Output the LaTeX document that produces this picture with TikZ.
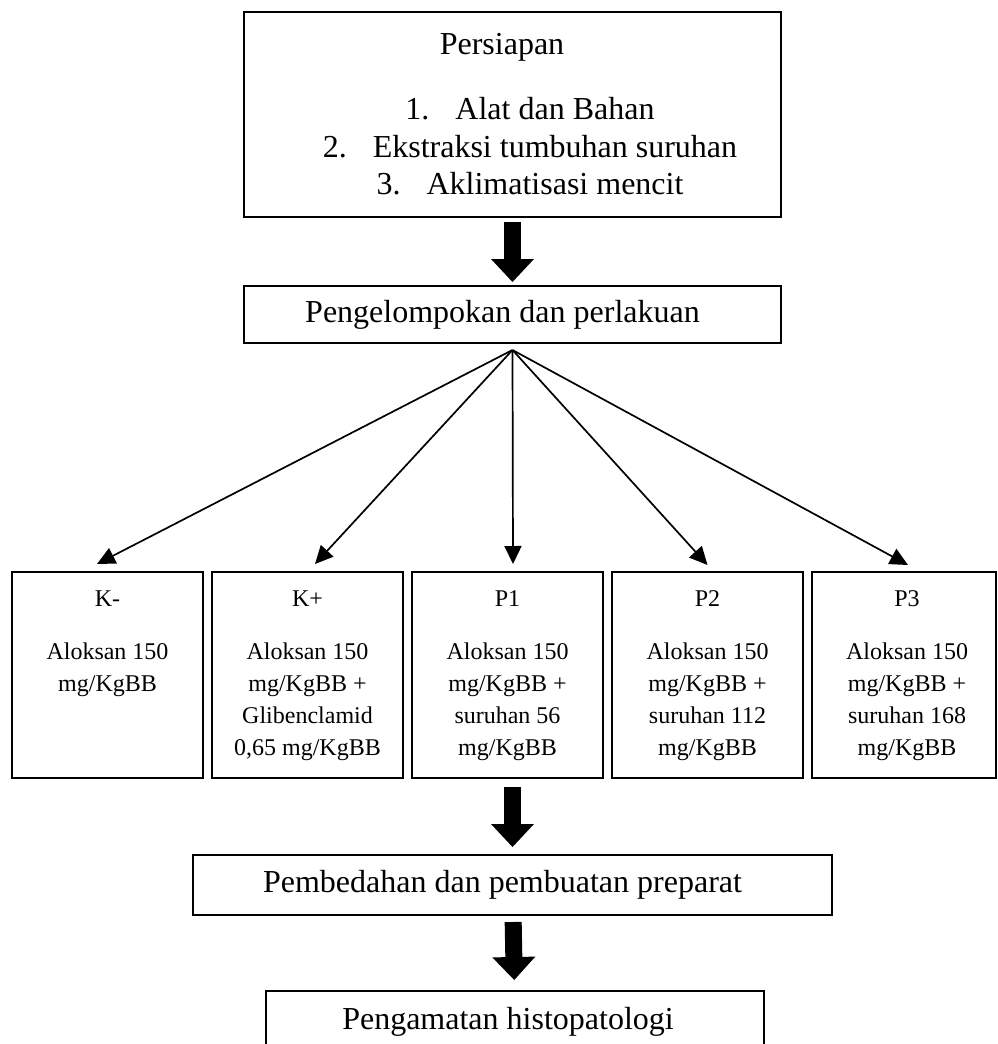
\documentclass[tikz,border=0pt]{standalone}
\usepackage{fontspec}
\setmainfont{Liberation Serif}
\usetikzlibrary{arrows.meta,positioning}

\begin{document}
\begin{tikzpicture}[x=0.5pt,y=-0.5pt,
    box/.style={draw,line width=1pt,inner sep=0pt,outer sep=0pt},
    bigtext/.style={font=\fontsize{16}{18.75}\selectfont},
    groupbox/.style={box,minimum width=95.5pt,minimum height=103pt},
    grouptext/.style={inner sep=0pt,align=center,font=\fontsize{12}{16}\selectfont},
    fanarrow/.style={line width=0.85pt,-{Triangle[length=9pt,width=8.5pt]}},
    blockarrow/.style={line width=8.5pt,-{Triangle[length=11.5pt,width=21.5pt,line width=0pt]}}]
  \useasboundingbox (0,0) rectangle (997,1044);

  % persiapan
  \node[box,minimum width=268.5pt,minimum height=102.5pt] (prep) at (512.5,114.5) {};
  \node[bigtext,inner sep=0pt,below=10.5pt of prep.north,xshift=-5.25pt] (preptitle) {Persiapan};
  \node[bigtext,inner sep=0pt,align=center,below=42.5pt of prep.north,xshift=8.75pt] (preplist)
    {1.\hspace{13pt}Alat dan Bahan\\
     2.\hspace{13pt}Ekstraksi tumbuhan suruhan\\
     3.\hspace{13pt}Aklimatisasi mencit};

  \node[box,bigtext,minimum width=268.5pt,minimum height=28.5pt] (group) at (512.5,314.5)
    {Pengelompokan dan perlakuan\hspace*{10pt}};
  \coordinate[below=3.5pt of group.south] (fan);

  % kelompok perlakuan
  \node[groupbox] (kmin) at (107.5,675) {};
  \node[groupbox,right=4.5pt of kmin] (kplus) {};
  \node[groupbox,right=4.5pt of kplus] (pone) {};
  \node[groupbox,right=4.5pt of pone] (ptwo) {};
  \node[groupbox,right=4.5pt of ptwo,minimum width=92pt] (pthree) {};

  \node[grouptext,below=9pt of kmin.north] (kmintext) {K-\\[10.5pt]Aloksan 150\\mg/KgBB};
  \node[grouptext,below=9pt of kplus.north] (kplustext)
    {K+\\[10.5pt]Aloksan 150\\mg/KgBB +\\Glibenclamid\\0,65 mg/KgBB};
  \node[grouptext,below=9pt of pone.north] (ponetext)
    {P1\\[10.5pt]Aloksan 150\\mg/KgBB +\\suruhan 56\\mg/KgBB};
  \node[grouptext,below=9pt of ptwo.north] (ptwotext)
    {P2\\[10.5pt]Aloksan 150\\mg/KgBB +\\suruhan 112\\mg/KgBB};
  \node[grouptext,below=9pt of pthree.north,xshift=1.5pt] (pthreetext)
    {P3\\[10.5pt]Aloksan 150\\mg/KgBB +\\suruhan 168\\mg/KgBB};

  \node[box,bigtext,minimum width=319.5pt,minimum height=30pt] (dissect) at (512.5,885)
    {Pembedahan dan pembuatan preparat\hspace*{10pt}};
  \node[box,bigtext,minimum width=249pt,minimum height=31pt] (histo) at (515,1022)
    {Pengamatan histopatologi\hspace*{7pt}};

  % panah
  \draw[blockarrow,shorten <=2.5pt,shorten >=2pt] (prep) -- (group);
  \draw[fanarrow] (fan) -- ([xshift=-5.25pt,yshift=4pt]kmin.north);
  \draw[fanarrow] (fan) -- ([xshift=3.75pt,yshift=4pt]kplus.north);
  \draw[fanarrow] (fan) -- ([xshift=2.75pt,yshift=4pt]pone.north);
  \draw[fanarrow] (fan) -- ([yshift=3.5pt]ptwo.north);
  \draw[fanarrow] (fan) -- ([xshift=2pt,yshift=3.5pt]pthree.north);
  \draw[blockarrow,shorten <=4.5pt,shorten >=4pt] (pone.south -| dissect.north) -- (dissect);
  \draw[blockarrow,shorten <=3.5pt,shorten >=5.5pt] (dissect) -- (histo);
\end{tikzpicture}
\end{document}
